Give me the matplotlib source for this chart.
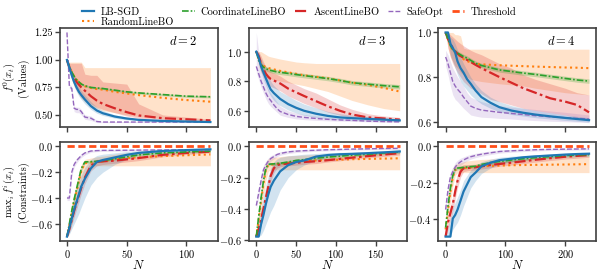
import numpy as np
import matplotlib
matplotlib.use("Agg")
import matplotlib.pyplot as plt
from matplotlib.lines import Line2D

plt.rcParams["font.family"] = ["serif"]
plt.rcParams["font.serif"] = ["cmr10", "DejaVu Serif"]
plt.rcParams["mathtext.fontset"] = "cm"
plt.rcParams["axes.formatter.use_mathtext"] = True
plt.rcParams["axes.unicode_minus"] = True

# === data ===
METHODS = ["LB-SGD", "RandomLineBO", "CoordinateLineBO", "AscentLineBO", "SafeOpt"]
DIMS = [2, 3, 4]

N_D2 = [0, 2, 4, 6, 8, 10, 12, 15, 20, 25, 30, 40, 50, 60, 80, 100, 120]
N_D3 = [0, 3, 6, 9, 12, 15, 18, 22, 26, 30, 40, 50, 60, 75, 90, 105, 120, 140, 160, 180]
N_D4 = [0, 4, 8, 12, 16, 20, 25, 30, 36, 42, 50, 60, 75, 90, 110, 130, 150, 175, 200, 220, 240]

# --- values f^0(x_t), d = 2 ---
VAL_D2 = {
    "LB-SGD": [1.0, .93, .86, .80, .75, .71, .68, .64, .58, .54, .515, .485, .467, .455, .445, .44, .435],
    "RandomLineBO": [1.0, .94, .89, .85, .82, .80, .78, .76, .745, .735, .73, .71, .695, .68, .655, .635, .62],
    "CoordinateLineBO": [1.0, .94, .89, .85, .82, .80, .78, .765, .75, .745, .74, .725, .71, .70, .685, .67, .665],
    "AscentLineBO": [1.0, .93, .88, .84, .80, .775, .75, .72, .67, .63, .60, .56, .525, .495, .47, .46, .45],
    "SafeOpt": [1.25, .76, .74, .56, .55, .55, .53, .48, .47, .44, .435, .435, .435, .435, .435, .435, .435],
}
VAL_D2_LO = {
    "LB-SGD": [1.0, .90, .82, .76, .71, .67, .64, .60, .55, .515, .495, .47, .455, .447, .438, .434, .43],
    "RandomLineBO": [1.0, .90, .82, .76, .72, .68, .65, .62, .58, .56, .54, .52, .50, .485, .465, .455, .45],
    "CoordinateLineBO": [1.0, .93, .88, .84, .81, .79, .77, .755, .74, .735, .73, .715, .70, .69, .675, .66, .655],
    "AscentLineBO": [1.0, .89, .83, .78, .74, .71, .68, .65, .60, .57, .55, .52, .49, .47, .455, .45, .445],
    "SafeOpt": [1.2, .74, .72, .53, .52, .52, .50, .46, .45, .43, .43, .43, .43, .43, .43, .43, .43],
}
VAL_D2_HI = {
    "LB-SGD": [1.0, .96, .90, .84, .79, .75, .72, .68, .62, .57, .54, .50, .48, .465, .452, .446, .44],
    "RandomLineBO": [1.0, .98, .98, .98, .98, .98, .98, .93, .93, .93, .93, .93, .93, .93, .93, .93, .93],
    "CoordinateLineBO": [1.0, .95, .90, .86, .83, .81, .79, .775, .76, .755, .75, .735, .72, .71, .695, .68, .675],
    "AscentLineBO": [1.0, .97, .97, .97, .97, .97, .97, .87, .86, .86, .80, .79, .78, .60, .50, .48, .46],
    "SafeOpt": [1.25, .78, .76, .58, .57, .57, .55, .50, .49, .45, .44, .44, .44, .44, .44, .44, .44],
}

# --- values f^0(x_t), d = 3 ---
VAL_D3 = {
    "LB-SGD": [1.0, .96, .90, .86, .82, .78, .745, .72, .70, .68, .645, .62, .60, .58, .565, .555, .55, .545, .54, .535],
    "RandomLineBO": [1.0, .95, .92, .905, .895, .89, .885, .88, .875, .87, .86, .85, .84, .83, .82, .805, .79, .775, .755, .73],
    "CoordinateLineBO": [1.0, .94, .91, .895, .885, .878, .873, .868, .863, .86, .853, .845, .838, .828, .818, .805, .79, .78, .77, .762],
    "AscentLineBO": [1.0, .97, .92, .88, .85, .83, .815, .805, .795, .785, .75, .725, .70, .665, .63, .60, .575, .555, .548, .54],
    "SafeOpt": [.90, .85, .80, .76, .72, .69, .67, .64, .615, .595, .575, .562, .555, .548, .542, .538, .535, .53, .527, .525],
}
VAL_D3_LO = {
    "LB-SGD": [1.0, .93, .86, .81, .77, .73, .70, .67, .65, .635, .605, .585, .57, .555, .545, .54, .535, .532, .53, .528],
    "RandomLineBO": [1.0, .90, .86, .84, .83, .82, .815, .81, .805, .80, .79, .78, .77, .75, .73, .70, .67, .64, .615, .60],
    "CoordinateLineBO": [1.0, .925, .895, .88, .87, .863, .858, .853, .848, .845, .838, .83, .823, .813, .803, .79, .775, .765, .755, .747],
    "AscentLineBO": [1.0, .94, .87, .83, .80, .78, .765, .755, .745, .735, .70, .675, .65, .62, .59, .57, .555, .54, .535, .53],
    "SafeOpt": [.86, .81, .76, .72, .68, .65, .63, .61, .59, .57, .555, .545, .54, .535, .532, .53, .528, .525, .522, .52],
}
VAL_D3_HI = {
    "LB-SGD": [1.0, .99, .95, .91, .87, .83, .80, .77, .75, .73, .70, .67, .645, .62, .595, .58, .57, .56, .55, .545],
    "RandomLineBO": [1.0, 1.0, 1.0, .99, .98, .97, .965, .96, .955, .95, .94, .93, .925, .92, .92, .92, .92, .92, .92, .92],
    "CoordinateLineBO": [1.0, .955, .925, .91, .90, .893, .888, .883, .878, .875, .868, .86, .853, .843, .833, .82, .805, .795, .785, .777],
    "AscentLineBO": [1.0, 1.0, .97, .93, .90, .88, .865, .855, .845, .835, .80, .775, .75, .72, .68, .64, .61, .58, .565, .555],
    "SafeOpt": [1.13, 1.0, .93, .86, .80, .75, .72, .69, .66, .63, .60, .585, .575, .565, .555, .55, .545, .54, .535, .532],
}

# --- values f^0(x_t), d = 4 ---
VAL_D4 = {
    "LB-SGD": [1.0, 1.0, .95, .93, .91, .87, .84, .82, .79, .77, .74, .71, .685, .665, .65, .64, .632, .624, .617, .612, .607],
    "RandomLineBO": [1.0, .97, .94, .92, .91, .905, .89, .88, .872, .865, .86, .857, .855, .853, .851, .849, .847, .845, .843, .842, .84],
    "CoordinateLineBO": [1.0, .97, .94, .925, .915, .907, .90, .892, .885, .875, .862, .852, .842, .832, .825, .818, .812, .803, .794, .787, .782],
    "AscentLineBO": [1.0, .97, .95, .93, .915, .905, .895, .885, .877, .868, .855, .84, .82, .80, .775, .75, .73, .705, .69, .675, .642],
    "SafeOpt": [.89, .86, .82, .78, .76, .745, .73, .71, .69, .67, .66, .652, .647, .642, .637, .632, .627, .622, .618, .615, .612],
}
VAL_D4_LO = {
    "LB-SGD": [1.0, .98, .90, .87, .84, .81, .78, .76, .74, .72, .70, .68, .66, .645, .632, .625, .618, .612, .606, .602, .598],
    "RandomLineBO": [1.0, .93, .89, .87, .85, .84, .82, .81, .80, .79, .785, .78, .775, .77, .765, .76, .75, .74, .73, .725, .72],
    "CoordinateLineBO": [1.0, .96, .93, .915, .905, .897, .89, .882, .875, .865, .852, .842, .832, .822, .815, .808, .802, .793, .784, .777, .772],
    "AscentLineBO": [1.0, .93, .89, .86, .84, .82, .80, .78, .765, .75, .74, .725, .70, .69, .675, .66, .65, .64, .63, .62, .61],
    "SafeOpt": [.85, .81, .76, .72, .70, .69, .675, .66, .645, .63, .625, .62, .618, .615, .612, .608, .605, .602, .60, .598, .596],
}
VAL_D4_HI = {
    "LB-SGD": [1.0, 1.0, .98, .97, .95, .92, .89, .86, .83, .80, .77, .74, .71, .69, .672, .66, .65, .64, .63, .624, .618],
    "RandomLineBO": [1.0, 1.0, 1.0, 1.0, .99, .99, .985, .93, .925, .925, .925, .925, .925, .925, .925, .925, .925, .925, .925, .925, .925],
    "CoordinateLineBO": [1.0, .98, .95, .935, .925, .917, .91, .902, .895, .885, .872, .862, .852, .842, .835, .828, .822, .813, .804, .797, .792],
    "AscentLineBO": [1.0, 1.0, .99, .98, .97, .96, .95, .94, .93, .92, .91, .90, .88, .86, .84, .81, .79, .77, .75, .73, .72],
    "SafeOpt": [.92, .90, .87, .84, .82, .80, .78, .76, .73, .71, .70, .69, .68, .672, .665, .66, .655, .648, .642, .636, .63],
}

# --- constraints max_i f^i(x_t), d = 2 ---
CON_D2 = {
    "LB-SGD": [-.70, -.63, -.56, -.49, -.43, -.37, -.31, -.25, -.17, -.12, -.105, -.085, -.065, -.05, -.035, -.028, -.022],
    "RandomLineBO": [-.70, -.61, -.52, -.43, -.35, -.27, -.19, -.13, -.125, -.12, -.115, -.10, -.09, -.085, -.075, -.068, -.062],
    "CoordinateLineBO": [-.70, -.60, -.50, -.41, -.33, -.25, -.17, -.12, -.118, -.115, -.11, -.095, -.08, -.065, -.05, -.042, -.036],
    "AscentLineBO": [-.70, -.64, -.57, -.50, -.44, -.38, -.32, -.24, -.15, -.12, -.115, -.11, -.10, -.09, -.065, -.05, -.04],
    "SafeOpt": [-.40, -.40, -.20, -.14, -.11, -.09, -.07, -.05, -.035, -.032, -.03, -.03, -.029, -.028, -.027, -.026, -.025],
}
CON_D2_LO = {
    "LB-SGD": [-.70, -.68, -.64, -.60, -.56, -.52, -.47, -.40, -.30, -.24, -.20, -.14, -.10, -.07, -.05, -.04, -.03],
    "RandomLineBO": [-.70, -.66, -.60, -.52, -.44, -.36, -.28, -.20, -.15, -.15, -.15, -.15, -.15, -.15, -.15, -.15, -.15],
    "CoordinateLineBO": [-.70, -.62, -.52, -.43, -.35, -.27, -.19, -.13, -.128, -.125, -.12, -.105, -.09, -.075, -.06, -.05, -.044],
    "AscentLineBO": [-.70, -.67, -.61, -.55, -.49, -.43, -.37, -.29, -.19, -.15, -.14, -.13, -.12, -.11, -.08, -.062, -.05],
    "SafeOpt": [-.42, -.42, -.23, -.16, -.13, -.105, -.085, -.065, -.045, -.04, -.038, -.037, -.036, -.035, -.034, -.033, -.032],
}
CON_D2_HI = {
    "LB-SGD": [-.70, -.58, -.48, -.40, -.33, -.27, -.22, -.16, -.10, -.07, -.06, -.05, -.04, -.035, -.028, -.022, -.018],
    "RandomLineBO": [-.70, -.56, -.45, -.36, -.28, -.20, -.14, -.10, -.09, -.08, -.075, -.06, -.05, -.045, -.04, -.035, -.03],
    "CoordinateLineBO": [-.70, -.58, -.48, -.39, -.31, -.23, -.15, -.11, -.108, -.105, -.10, -.085, -.07, -.055, -.04, -.034, -.028],
    "AscentLineBO": [-.70, -.61, -.53, -.46, -.40, -.34, -.28, -.20, -.12, -.10, -.095, -.09, -.085, -.075, -.055, -.04, -.032],
    "SafeOpt": [-.38, -.38, -.17, -.12, -.09, -.075, -.055, -.04, -.028, -.025, -.024, -.023, -.022, -.021, -.02, -.02, -.019],
}

# --- constraints, d = 3 ---
CON_D3 = {
    "LB-SGD": [-.58, -.58, -.50, -.44, -.37, -.31, -.26, -.22, -.19, -.16, -.12, -.10, -.09, -.065, -.055, -.05, -.048, -.043, -.038, -.032],
    "RandomLineBO": [-.58, -.47, -.35, -.24, -.15, -.12, -.118, -.115, -.112, -.11, -.105, -.10, -.095, -.09, -.087, -.085, -.082, -.08, -.078, -.076],
    "CoordinateLineBO": [-.58, -.45, -.33, -.22, -.14, -.115, -.113, -.112, -.11, -.108, -.10, -.09, -.085, -.075, -.068, -.062, -.056, -.05, -.042, -.035],
    "AscentLineBO": [-.58, -.53, -.47, -.40, -.33, -.26, -.19, -.14, -.12, -.115, -.11, -.105, -.10, -.095, -.088, -.08, -.072, -.062, -.052, -.043],
    "SafeOpt": [-.38, -.30, -.22, -.15, -.12, -.095, -.078, -.065, -.052, -.045, -.035, -.03, -.027, -.024, -.021, -.019, -.017, -.015, -.013, -.012],
}
CON_D3_LO = {
    "LB-SGD": [-.58, -.58, -.57, -.54, -.50, -.46, -.42, -.38, -.33, -.28, -.20, -.15, -.12, -.09, -.07, -.06, -.055, -.05, -.045, -.04],
    "RandomLineBO": [-.58, -.52, -.42, -.32, -.22, -.16, -.15, -.15, -.15, -.15, -.15, -.15, -.15, -.15, -.15, -.15, -.15, -.15, -.15, -.15],
    "CoordinateLineBO": [-.58, -.47, -.35, -.24, -.155, -.125, -.123, -.122, -.12, -.118, -.11, -.10, -.095, -.085, -.078, -.072, -.066, -.06, -.052, -.045],
    "AscentLineBO": [-.58, -.56, -.51, -.44, -.37, -.30, -.23, -.17, -.14, -.13, -.125, -.12, -.115, -.11, -.10, -.092, -.084, -.074, -.064, -.055],
    "SafeOpt": [-.40, -.33, -.25, -.18, -.145, -.115, -.095, -.08, -.065, -.056, -.045, -.039, -.035, -.031, -.028, -.025, -.023, -.021, -.019, -.018],
}
CON_D3_HI = {
    "LB-SGD": [-.58, -.52, -.40, -.32, -.25, -.19, -.14, -.10, -.08, -.07, -.06, -.055, -.05, -.045, -.04, -.038, -.035, -.032, -.028, -.025],
    "RandomLineBO": [-.58, -.42, -.28, -.17, -.10, -.08, -.075, -.07, -.068, -.065, -.06, -.058, -.055, -.052, -.05, -.048, -.046, -.044, -.042, -.04],
    "CoordinateLineBO": [-.58, -.43, -.31, -.20, -.125, -.105, -.103, -.102, -.10, -.098, -.09, -.08, -.075, -.065, -.058, -.052, -.046, -.04, -.032, -.025],
    "AscentLineBO": [-.58, -.50, -.43, -.36, -.29, -.22, -.15, -.11, -.10, -.10, -.095, -.09, -.085, -.08, -.075, -.068, -.06, -.05, -.04, -.033],
    "SafeOpt": [-.36, -.27, -.19, -.12, -.095, -.075, -.06, -.05, -.04, -.034, -.025, -.021, -.019, -.017, -.014, -.013, -.011, -.009, -.007, -.006],
}

# --- constraints, d = 4 ---
CON_D4 = {
    "LB-SGD": [-.50, -.50, -.50, -.40, -.38, -.35, -.30, -.25, -.21, -.17, -.145, -.11, -.09, -.076, -.068, -.06, -.055, -.05, -.045, -.042, -.04],
    "RandomLineBO": [-.46, -.35, -.25, -.17, -.13, -.125, -.122, -.12, -.118, -.115, -.112, -.11, -.108, -.106, -.104, -.103, -.102, -.101, -.10, -.099, -.098],
    "CoordinateLineBO": [-.45, -.33, -.23, -.16, -.125, -.12, -.118, -.116, -.114, -.112, -.11, -.10, -.09, -.083, -.075, -.068, -.062, -.056, -.05, -.047, -.045],
    "AscentLineBO": [-.50, -.42, -.37, -.32, -.25, -.19, -.14, -.12, -.12, -.118, -.115, -.11, -.103, -.097, -.09, -.082, -.074, -.065, -.057, -.052, -.048],
    "SafeOpt": [-.35, -.24, -.17, -.14, -.115, -.098, -.085, -.075, -.065, -.057, -.05, -.043, -.035, -.028, -.024, -.021, -.018, -.016, -.015, -.014, -.013],
}
CON_D4_LO = {
    "LB-SGD": [-.50, -.50, -.50, -.46, -.44, -.42, -.38, -.33, -.28, -.23, -.19, -.15, -.12, -.10, -.085, -.075, -.068, -.062, -.056, -.052, -.05],
    "RandomLineBO": [-.46, -.40, -.31, -.22, -.16, -.145, -.145, -.145, -.145, -.145, -.145, -.145, -.145, -.145, -.145, -.145, -.145, -.145, -.145, -.145, -.145],
    "CoordinateLineBO": [-.45, -.35, -.25, -.175, -.135, -.13, -.128, -.126, -.124, -.122, -.12, -.11, -.10, -.093, -.085, -.078, -.072, -.066, -.06, -.057, -.055],
    "AscentLineBO": [-.50, -.46, -.41, -.36, -.29, -.23, -.17, -.14, -.135, -.132, -.13, -.125, -.118, -.11, -.103, -.095, -.087, -.078, -.07, -.065, -.06],
    "SafeOpt": [-.37, -.27, -.20, -.165, -.14, -.12, -.105, -.092, -.08, -.07, -.062, -.054, -.045, -.037, -.032, -.028, -.025, -.022, -.021, -.02, -.019],
}
CON_D4_HI = {
    "LB-SGD": [-.50, -.45, -.40, -.34, -.31, -.28, -.24, -.19, -.16, -.13, -.11, -.085, -.07, -.06, -.054, -.05, -.046, -.042, -.038, -.035, -.033],
    "RandomLineBO": [-.46, -.30, -.19, -.12, -.10, -.095, -.09, -.085, -.08, -.078, -.075, -.072, -.07, -.068, -.066, -.064, -.062, -.06, -.058, -.057, -.056],
    "CoordinateLineBO": [-.45, -.31, -.21, -.145, -.115, -.11, -.108, -.106, -.104, -.102, -.10, -.09, -.08, -.073, -.065, -.058, -.052, -.046, -.04, -.037, -.035],
    "AscentLineBO": [-.50, -.38, -.33, -.28, -.21, -.15, -.11, -.10, -.10, -.10, -.098, -.095, -.088, -.084, -.077, -.07, -.062, -.054, -.046, -.041, -.037],
    "SafeOpt": [-.33, -.21, -.14, -.115, -.09, -.076, -.065, -.058, -.05, -.044, -.038, -.032, -.025, -.019, -.016, -.014, -.012, -.01, -.009, -.008, -.007],
}

THRESHOLD = 0.0

# === styles ===
STYLE = {
    "LB-SGD": dict(color="#1f77b4", ls="-", lw=1.6),
    "RandomLineBO": dict(color="#ff7f0e", ls=(0, (1, 1.6)), lw=1.5),
    "CoordinateLineBO": dict(color="#2ca02c", ls=(0, (4, 1.2, 1, 1.2)), lw=1.2),
    "AscentLineBO": dict(color="#d62728", ls=(0, (5, 1.5, 1.2, 1.5)), lw=1.6),
    "SafeOpt": dict(color="#9467bd", ls=(0, (3.5, 1.5)), lw=1.0),
}
BAND_ALPHA = {"LB-SGD": 0.2, "RandomLineBO": 0.22, "CoordinateLineBO": 0.25,
              "AscentLineBO": 0.22, "SafeOpt": 0.18}
THR_COLOR = "#ff4f1a"
THR_LS = (0, (2.6, 1.3))
SPINE = "#404040"

grids = [N_D2, N_D3, N_D4]
vals = [(VAL_D2, VAL_D2_LO, VAL_D2_HI), (VAL_D3, VAL_D3_LO, VAL_D3_HI), (VAL_D4, VAL_D4_LO, VAL_D4_HI)]
cons = [(CON_D2, CON_D2_LO, CON_D2_HI), (CON_D3, CON_D3_LO, CON_D3_HI), (CON_D4, CON_D4_LO, CON_D4_HI)]

fig, axes = plt.subplots(2, 3, figsize=(5.98, 2.74), dpi=100, sharex="col")
fig.subplots_adjust(left=0.1, right=0.997, top=0.898, bottom=0.12, wspace=0.2, hspace=0.15)

draw_order = ["RandomLineBO", "AscentLineBO", "CoordinateLineBO", "SafeOpt", "LB-SGD"]

for j, d in enumerate(DIMS):
    N = np.array(grids[j])
    for i, (mean, lo, hi) in enumerate([vals[j], cons[j]]):
        ax = axes[i, j]
        for m in draw_order:
            st = STYLE[m]
            ax.fill_between(N, lo[m], hi[m], color=st["color"], alpha=BAND_ALPHA[m], lw=0)
        for m in draw_order:
            ax.plot(N, mean[m], **STYLE[m])
        if i == 1:
            ax.plot(N, np.full(len(N), THRESHOLD), color=THR_COLOR, lw=2.0, ls=THR_LS)
            ax.set_xlabel("$N$", fontsize=9, labelpad=-0.5)
        else:
            ax.text(0.87, 0.86, f"$d = {d}$", transform=ax.transAxes, ha="right", va="center", fontsize=9)
        for s in ax.spines.values():
            s.set_color(SPINE)
            s.set_linewidth(1.2)
        ax.tick_params(direction="out", length=3.5, width=1.0, color=SPINE, labelsize=7.5, pad=1.5)

axes[0, 0].set_yticks([0.5, 0.75, 1.0, 1.25])
axes[0, 0].set_yticklabels(["0.50", "0.75", "1.00", "1.25"])
axes[0, 1].set_yticks([0.6, 0.8, 1.0])
axes[0, 2].set_yticks([0.6, 0.8, 1.0])
axes[1, 0].set_yticks([0.0, -0.2, -0.4, -0.6])
axes[1, 1].set_yticks([0.0, -0.2, -0.4, -0.6])
axes[1, 2].set_yticks([0.0, -0.2, -0.4])
axes[1, 0].set_xticks([0, 50, 100])
axes[1, 1].set_xticks([0, 50, 100, 150])
axes[1, 2].set_xticks([0, 100, 200])

axes[0, 0].set_ylabel("$f^0(x_t)$\n(Values)", fontsize=7.5, linespacing=1.05)
axes[1, 0].set_ylabel("$\\mathrm{max}_i\\, f^i(x_t)$\n(Constraints)", fontsize=7.5, linespacing=1.05)
for ax in axes[:, 0]:
    ax.yaxis.set_label_coords(-0.195, 0.5)

handles = [Line2D([], [], **STYLE[m]) for m in METHODS]
handles.append(Line2D([], [], color=THR_COLOR, lw=2.0, ls=THR_LS))
labels = METHODS + ["Threshold"]
fig.legend(handles, labels, loc="upper center", bbox_to_anchor=(0.5, 0.995), ncol=5,
           frameon=False, fontsize=7.5, handlelength=1.2, columnspacing=0.8,
           handletextpad=0.6, labelspacing=0.1, borderaxespad=0.1)

fig.savefig("out.png", dpi=100)
